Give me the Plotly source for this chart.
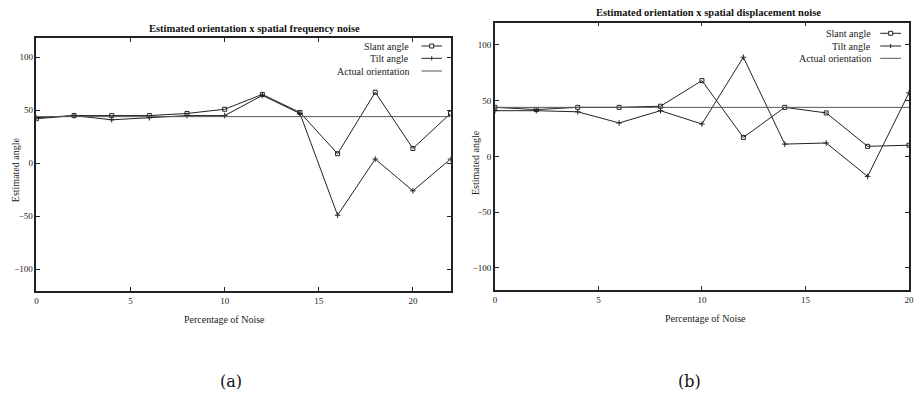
import plotly.graph_objects as go

# ---------------- data ----------------
noise_a = [0, 2, 4, 6, 8, 10, 12, 14, 16, 18, 20, 22]
slant_a = [42, 45, 45, 45, 47, 51, 65, 48, 9, 67, 14, 47]
tilt_a = [43, 45, 41, 43, 45, 45, 64, 47, -49, 4, -26, 4]
actual_a = 44

noise_b = [0, 2, 4, 6, 8, 10, 12, 14, 16, 18, 20]
slant_b = [44, 42, 44, 44, 45, 68, 17, 44, 39, 9, 10]
tilt_b = [41, 41, 40, 30, 41, 29, 89, 11, 12, -18, 57]
actual_b = 44

series_names = ["Slant angle", "Tilt angle", "Actual orientation"]
titles = ["Estimated orientation x spatial frequency noise",
          "Estimated orientation x spatial displacement noise"]
x_title = "Percentage of Noise"
y_title = "Estimated angle"
panel_labels = ["(a)", "(b)"]
y_ticks = [-100, -50, 0, 50, 100]
x_ticks = [0, 5, 10, 15, 20]

W, H = 915, 394
def px(x):
    return x / W
def py(y):
    return 1 - y / H

LINE = "#222222"
ACT = "#555555"
SERIF = "Liberation Serif, Times New Roman, serif"

fig = go.Figure()

def add_panel(xa, ya, noise, slant, tilt, actual):
    fig.add_trace(go.Scatter(x=noise, y=slant, mode="lines+markers", xaxis=xa, yaxis=ya,
                             line=dict(color=LINE, width=1),
                             marker=dict(symbol="square-open", size=4, color=LINE, line=dict(width=1)),
                             showlegend=False, name=series_names[0]))
    fig.add_trace(go.Scatter(x=noise, y=tilt, mode="lines+markers", xaxis=xa, yaxis=ya,
                             line=dict(color=LINE, width=1),
                             marker=dict(symbol="cross-thin-open", size=4, color=LINE, line=dict(width=1, color=LINE)),
                             showlegend=False, name=series_names[1]))
    fig.add_trace(go.Scatter(x=[noise[0], noise[-1]], y=[actual, actual], mode="lines",
                             xaxis=xa, yaxis=ya, line=dict(color=ACT, width=1),
                             showlegend=False, name=series_names[2]))

add_panel("x", "y", noise_a, slant_a, tilt_a, actual_a)
add_panel("x2", "y2", noise_b, slant_b, tilt_b, actual_b)

axis_common = dict(showgrid=False, zeroline=False, showline=True, mirror="ticks",
                   linecolor="#222", linewidth=1.5, ticks="inside", ticklen=4,
                   tickcolor="#222", tickwidth=1.2, ticklabeloverflow="allow",
                   tickfont=dict(family=SERIF, size=9, color="#222"))

fig.update_layout(
    width=W, height=H,
    margin=dict(l=0, r=0, t=0, b=0),
    paper_bgcolor="white", plot_bgcolor="white",
    xaxis=dict(domain=[px(34.7), px(452)], range=[0, 22], tickvals=x_ticks, anchor="y", **axis_common),
    yaxis=dict(domain=[py(291), py(38)], range=[-120.5, 118.2], tickvals=y_ticks, anchor="x", **axis_common),
    xaxis2=dict(domain=[px(496.7), px(914)], range=[0, 20], tickvals=x_ticks, anchor="y2", **axis_common),
    yaxis2=dict(domain=[py(290), py(22.7)], range=[-120, 120], tickvals=y_ticks, anchor="x2", **axis_common),
)

ann = []
shapes = []
# titles
ann.append(dict(text="<b>" + titles[0] + "</b>", x=px(254.7), y=py(28.3), xref="paper", yref="paper",
                showarrow=False, xanchor="center", yanchor="middle",
                font=dict(family=SERIF, size=10.5, color="#111")))
ann.append(dict(text="<b>" + titles[1] + "</b>", x=px(711.7), y=py(12.7), xref="paper", yref="paper",
                showarrow=False, xanchor="center", yanchor="middle",
                font=dict(family=SERIF, size=10.5, color="#111")))
# axis titles
for xc, yc in [(224, 319.3), (708.8, 318.5)]:
    ann.append(dict(text=x_title, x=px(xc), y=py(yc), xref="paper", yref="paper", showarrow=False,
                    xanchor="center", yanchor="middle", font=dict(family=SERIF, size=10, color="#222")))
for xc, yc in [(13.3, 170), (476.7, 163)]:
    ann.append(dict(text=y_title, x=px(xc), y=py(yc), xref="paper", yref="paper", showarrow=False,
                    textangle=-90, xanchor="center", yanchor="middle",
                    font=dict(family=SERIF, size=10, color="#222")))
# panel labels
for lab, xc in zip(panel_labels, [230.8, 692.5]):
    ann.append(dict(text=lab, x=px(xc), y=py(381), xref="paper", yref="paper", showarrow=False,
                    xanchor="center", yanchor="middle", font=dict(family="DejaVu Serif", size=16, color="#111")))

# gnuplot-style legends (text then sample)
def legend(text_right, sx0, sx1, rows):
    for i, (name, yy) in enumerate(zip(series_names, rows)):
        ann.append(dict(text=name, x=px(text_right), y=py(yy), xref="paper", yref="paper",
                        showarrow=False, xanchor="right", yanchor="middle",
                        font=dict(family=SERIF, size=10, color="#222")))
        col = ACT if i == 2 else LINE
        shapes.append(dict(type="line", xref="paper", yref="paper", x0=px(sx0), x1=px(sx1),
                           y0=py(yy), y1=py(yy), line=dict(color=col, width=1)))
        cx = (sx0 + sx1) / 2
        if i == 0:
            shapes.append(dict(type="rect", xref="paper", yref="paper", x0=px(cx - 2), x1=px(cx + 2),
                               y0=py(yy + 2), y1=py(yy - 2), line=dict(color=LINE, width=1),
                               fillcolor="white"))
        elif i == 1:
            shapes.append(dict(type="line", xref="paper", yref="paper", x0=px(cx), x1=px(cx),
                               y0=py(yy + 2), y1=py(yy - 2), line=dict(color=LINE, width=1)))

legend(411.7, 422.7, 443.3, [46, 58.3, 71])
legend(877.7, 885, 906, [33.3, 46, 58.3])

fig.update_layout(annotations=ann, shapes=shapes)
fig.write_html("out.html", config={"displayModeBar": False},
               post_script="document.body.style.margin='0';document.body.style.padding='0';"
                           "document.body.style.overflow='hidden';")
